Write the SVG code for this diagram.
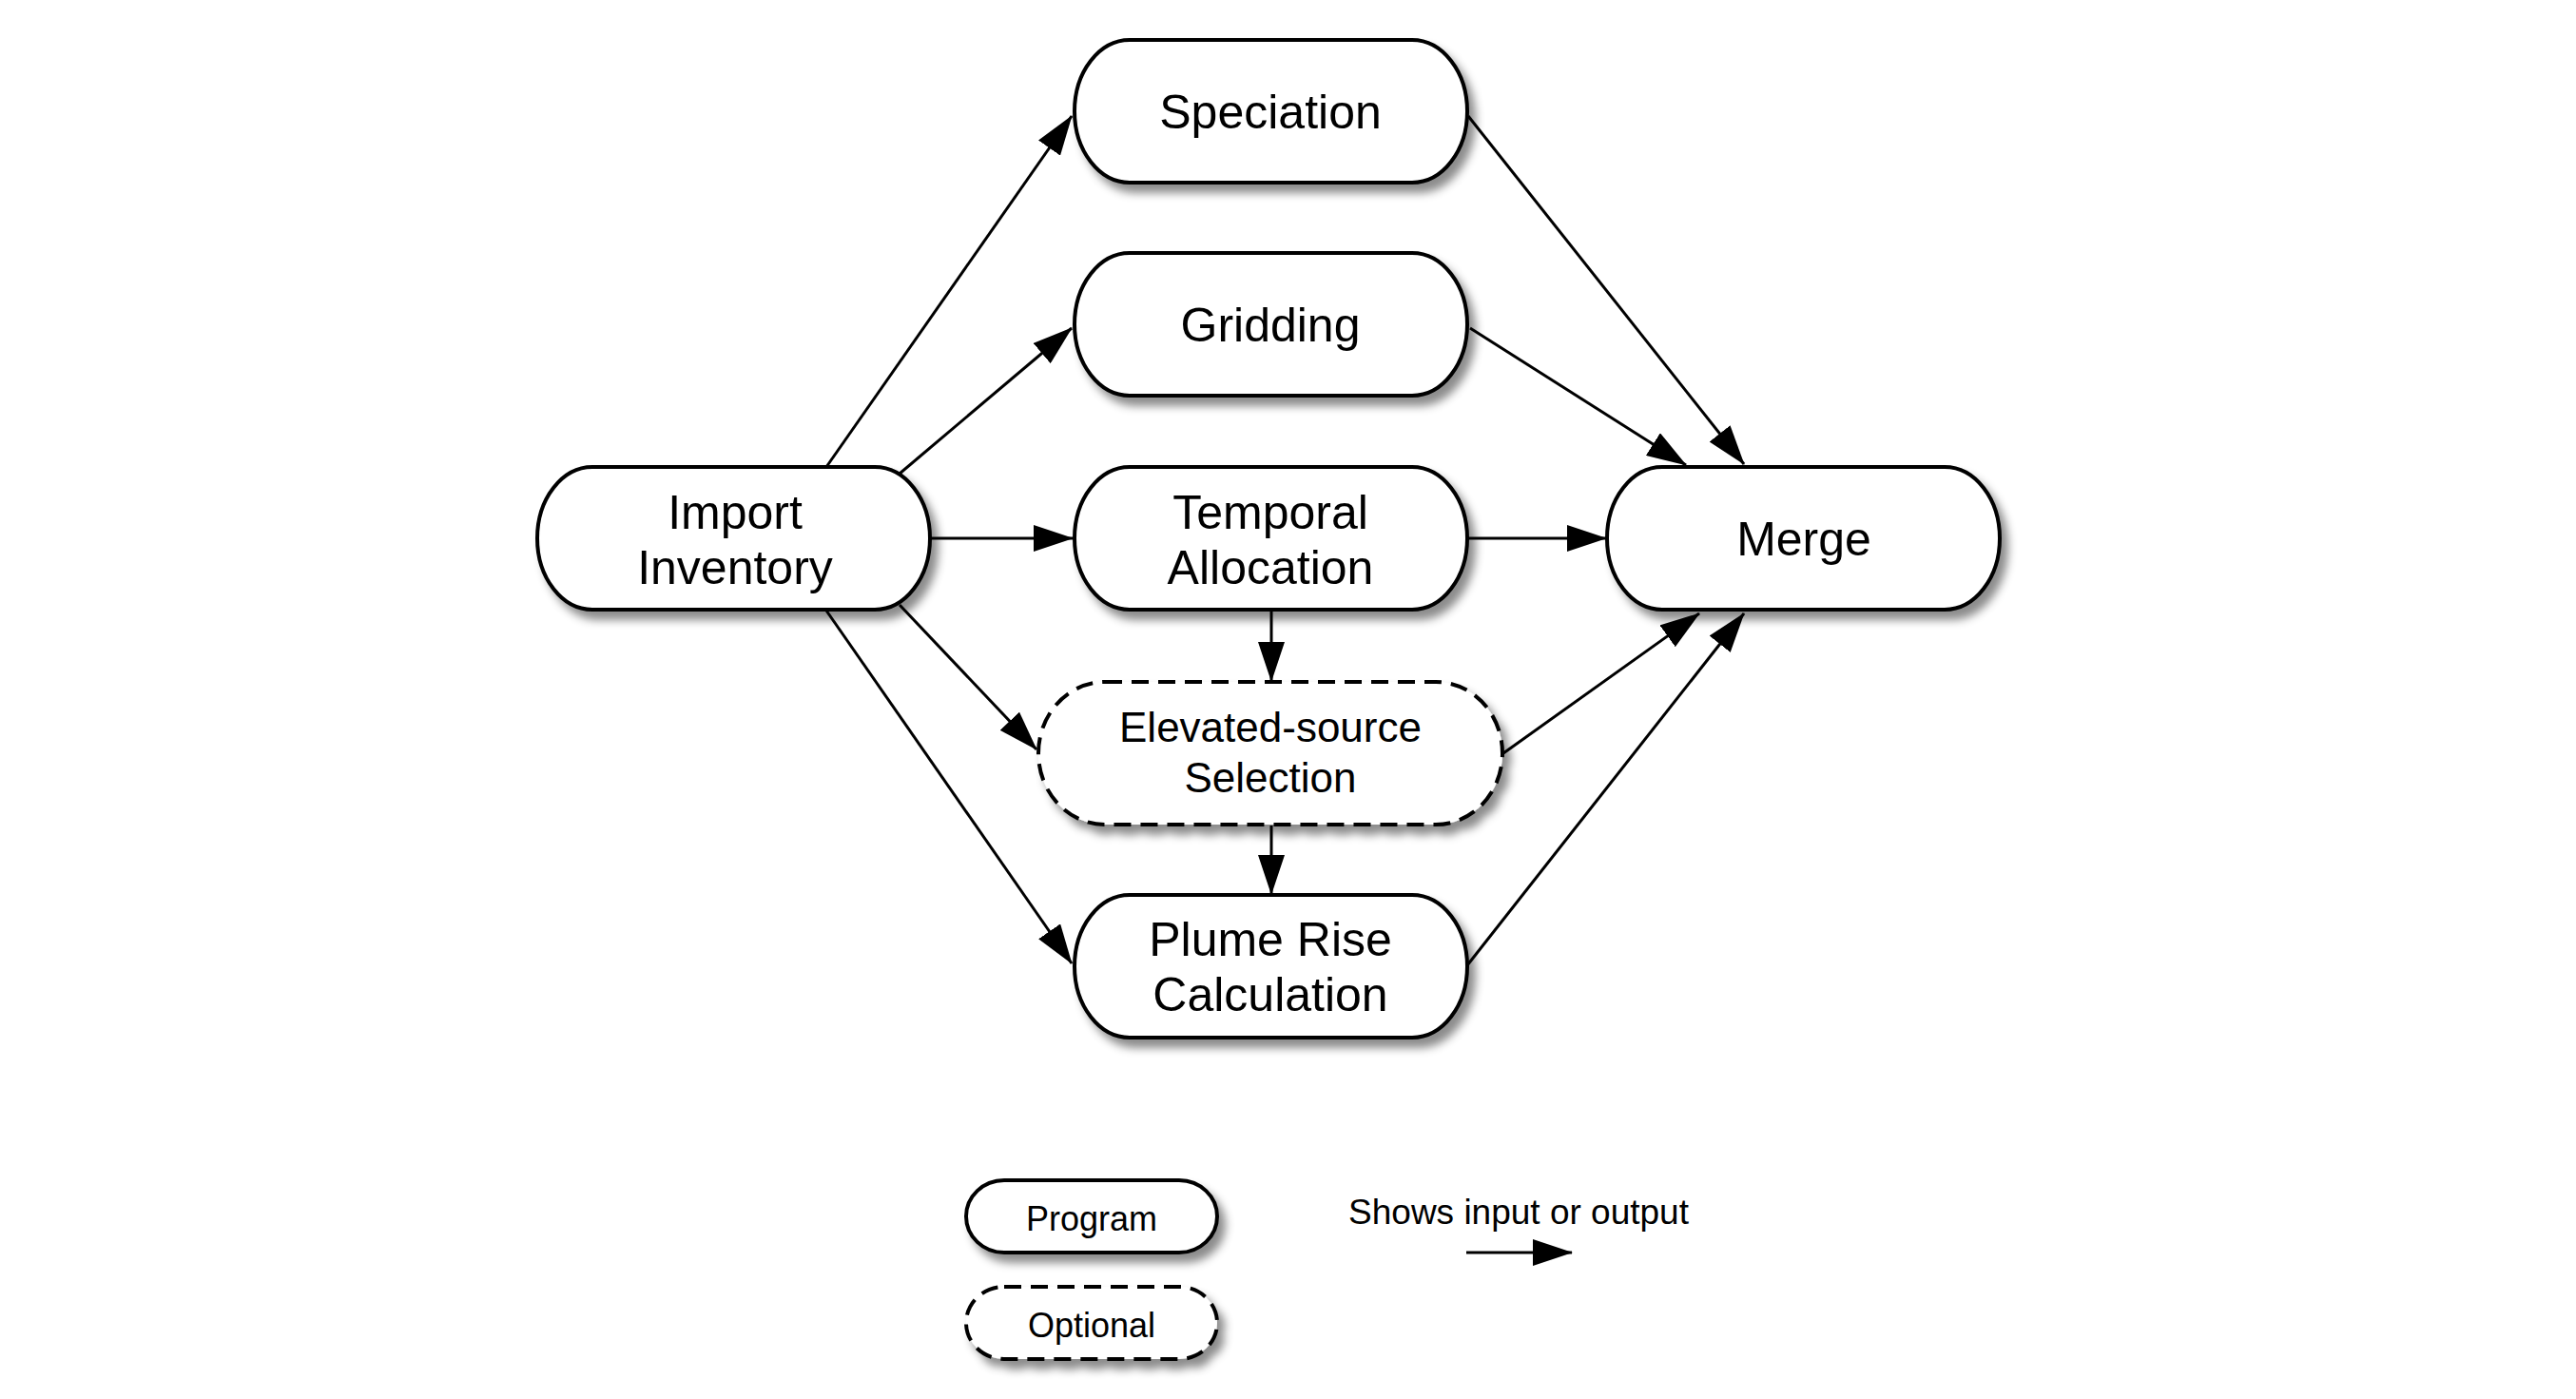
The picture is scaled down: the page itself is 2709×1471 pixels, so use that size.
<svg xmlns="http://www.w3.org/2000/svg" width="2709" height="1471" viewBox="0 0 2709 1471">
<style>
.node rect{fill:#fff;stroke:#000;stroke-width:4;filter:url(#sh)}
.opt rect{stroke-dasharray:18 10}
text{font-family:"Liberation Sans",Arial,sans-serif;fill:#000;text-anchor:middle}
.t{font-size:50px}
.ts{font-size:44px}
.tl{font-size:36px}
.edges line{stroke:#000;stroke-width:3;marker-end:url(#ah)}
</style>
<defs>
<filter id="sh" x="-10%" y="-20%" width="130%" height="150%">
<feDropShadow dx="7" dy="9" stdDeviation="5" flood-color="#000" flood-opacity="0.45"/>
</filter>
<marker id="ah" markerUnits="userSpaceOnUse" viewBox="0 0 42 28" markerWidth="42" markerHeight="28" refX="41" refY="14" orient="auto">
<path d="M0,0 L42,14 L0,28 z" fill="#000"/>
</marker>
</defs>
<rect width="2709" height="1471" fill="#fff"/>
<g id="speciation" class="node"><rect x="1130" y="42" width="413" height="150" rx="58" ry="75"/><text class="t" x="1336" y="135">Speciation</text></g>
<g id="gridding" class="node"><rect x="1130" y="266" width="413" height="150" rx="58" ry="75"/><text class="t" x="1336" y="359">Gridding</text></g>
<g id="temporal" class="node"><rect x="1130" y="491" width="413" height="150" rx="58" ry="75"/><text class="t" x="1336" y="556">Temporal</text><text class="t" x="1336" y="614">Allocation</text></g>
<g id="elevated" class="node opt"><rect x="1092" y="717" width="488" height="150" rx="70" ry="75"/><text class="ts" x="1336" y="780">Elevated-source</text><text class="ts" x="1336" y="833">Selection</text></g>
<g id="plume" class="node"><rect x="1130" y="941" width="413" height="150" rx="58" ry="75"/><text class="t" x="1336" y="1005">Plume Rise</text><text class="t" x="1336" y="1063">Calculation</text></g>
<g id="import" class="node"><rect x="565" y="491" width="413" height="150" rx="58" ry="75"/><text class="t" x="773" y="556">Import</text><text class="t" x="773" y="614">Inventory</text></g>
<g id="merge" class="node"><rect x="1690" y="491" width="413" height="150" rx="58" ry="75"/><text class="t" x="1897" y="584">Merge</text></g>
<g id="legend-program" class="node"><rect x="1016" y="1241" width="264" height="76" rx="40" ry="38"/><text class="tl" x="1148" y="1294">Program</text></g>
<g id="legend-optional" class="node opt"><rect x="1016" y="1353" width="264" height="76" rx="40" ry="38"/><text class="tl" x="1148" y="1406">Optional</text></g>
<g id="legend-arrow"><text style="font-size:37px" x="1597" y="1287">Shows input or output</text><line x1="1542" y1="1317" x2="1653" y2="1317" stroke="#000" stroke-width="3" marker-end="url(#ah)"/></g>
<g id="connectors" class="edges">
<line x1="869" y1="491" x2="1127" y2="122"/>
<line x1="946" y1="498" x2="1127" y2="345"/>
<line x1="978" y1="566" x2="1128" y2="566"/>
<line x1="946" y1="636" x2="1090" y2="788"/>
<line x1="869" y1="642" x2="1127" y2="1013"/>
<line x1="1337" y1="643" x2="1337" y2="716"/>
<line x1="1337" y1="868" x2="1337" y2="940"/>
<line x1="1544" y1="122" x2="1834" y2="488"/>
<line x1="1546" y1="345" x2="1773" y2="489"/>
<line x1="1544" y1="566" x2="1689" y2="566"/>
<line x1="1581" y1="792" x2="1787" y2="645"/>
<line x1="1543" y1="1015" x2="1834" y2="645"/>
</g>
</svg>
